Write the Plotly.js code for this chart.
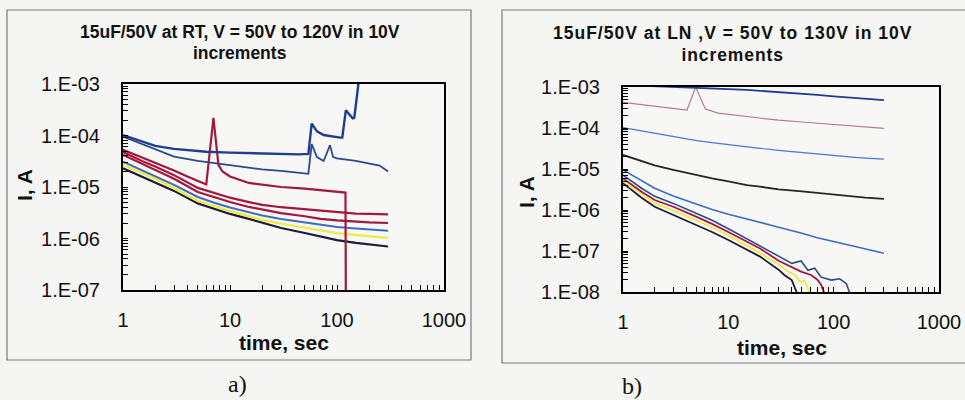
<!DOCTYPE html>
<html>
<head>
<meta charset="utf-8">
<script src="https://cdn.plot.ly/plotly-3.0.1.min.js"></script>
<style>
html,body{margin:0;padding:0;background:#f5f5f3;}
#chart{width:965px;height:400px;}
</style>
</head>
<body>
<div id="chart"></div>
<script>
// ---------- Data: panel a) room temperature (RT) ----------
var tRT = [1, 1.5, 2, 3, 5, 7, 10, 15, 20, 30, 50, 70, 100, 150, 200, 300];
var rt50V = [2.3e-5, 1.6e-5, 1.25e-5, 8.4e-6, 4.8e-6, 3.8e-6, 3.0e-6, 2.4e-6, 2.0e-6, 1.6e-6, 1.28e-6, 1.08e-6, 9.3e-7, 8.2e-7, 7.6e-7, 7.0e-7];
var rt60V = [2.7e-5, 1.85e-5, 1.45e-5, 9.5e-6, 5.4e-6, 4.3e-6, 3.4e-6, 2.7e-6, 2.3e-6, 1.95e-6, 1.62e-6, 1.42e-6, 1.27e-6, 1.17e-6, 1.1e-6, 1.03e-6];
var rt70V = [3.1e-5, 2.1e-5, 1.65e-5, 1.1e-5, 6.4e-6, 5.0e-6, 4.0e-6, 3.2e-6, 2.8e-6, 2.4e-6, 2.05e-6, 1.85e-6, 1.68e-6, 1.56e-6, 1.48e-6, 1.42e-6];
var rt80V = [4.2e-5, 2.8e-5, 2.15e-5, 1.45e-5, 8.0e-6, 6.4e-6, 5.1e-6, 4.1e-6, 3.6e-6, 3.1e-6, 2.7e-6, 2.4e-6, 2.25e-6, 2.12e-6, 2.05e-6, 2.0e-6];
var rt90V = [4.8e-5, 3.2e-5, 2.5e-5, 1.7e-5, 9.6e-6, 7.7e-6, 6.2e-6, 5.1e-6, 4.5e-6, 4.05e-6, 3.7e-6, 3.4e-6, 3.2e-6, 3.05e-6, 3.0e-6, 2.95e-6];
var tRT100 = [1, 1.5, 2, 3, 4, 5, 6, 7, 7.8, 8.5, 10, 15, 20, 30, 50, 70, 100, 120, 121];
var rt100V = [5.3e-5, 3.8e-5, 3.0e-5, 2.1e-5, 1.6e-5, 1.32e-5, 1.12e-5, 2.2e-4, 2.7e-5, 2.0e-5, 1.6e-5, 1.2e-5, 1.1e-5, 1.0e-5, 9.3e-6, 8.7e-6, 8.0e-6, 7.8e-6, 5e-8];
var tRT110 = [1, 1.5, 2, 3, 5, 7, 10, 15, 20, 30, 40, 52, 54, 58, 65, 75, 86, 92, 100, 150, 200, 250, 300];
var rt110V = [9.5e-5, 6.8e-5, 5.4e-5, 3.9e-5, 3.2e-5, 2.9e-5, 2.65e-5, 2.35e-5, 2.2e-5, 2.05e-5, 1.9e-5, 1.77e-5, 1.8e-5, 6.8e-5, 3.8e-5, 3.2e-5, 6.5e-5, 3.8e-5, 3.6e-5, 3.2e-5, 2.9e-5, 2.6e-5, 2.0e-5];
var tRT120 = [1, 1.5, 2, 3, 6, 10, 18, 30, 44, 54, 58, 65, 75, 107, 112, 121, 140, 145, 165];
var rt120V = [1.02e-4, 7.6e-5, 6.3e-5, 5.5e-5, 4.85e-5, 4.65e-5, 4.5e-5, 4.4e-5, 4.3e-5, 4.4e-5, 1.7e-4, 1.2e-4, 1.02e-4, 9.1e-5, 9.1e-5, 3.1e-4, 2.15e-4, 2.2e-4, 2.0e-3];

// ---------- Data: panel b) liquid nitrogen (LN) ----------
var tLN = [1, 1.5, 2, 3, 5, 7, 10, 15, 20, 30, 50, 70, 100, 150, 200, 300];
var ln130V = [1.12e-3, 1.08e-3, 1.05e-3, 1.01e-3, 9.8e-4, 9.3e-4, 8.9e-4, 8.5e-4, 8.1e-4, 7.5e-4, 6.8e-4, 6.4e-4, 5.9e-4, 5.4e-4, 5.1e-4, 4.8e-4];
var tLN120 = [1, 2, 3, 4.05, 4.9, 6.05, 8, 10, 15, 20, 30, 50, 70, 100, 150, 200, 300];
var ln120V = [4.2e-4, 3.4e-4, 3.0e-4, 2.75e-4, 1.0e-3, 2.9e-4, 2.3e-4, 2.15e-4, 1.85e-4, 1.72e-4, 1.55e-4, 1.4e-4, 1.3e-4, 1.2e-4, 1.1e-4, 1.05e-4, 9.8e-5];
var ln110V = [1.02e-4, 8.4e-5, 7.3e-5, 6.0e-5, 4.9e-5, 4.4e-5, 4.0e-5, 3.5e-5, 3.2e-5, 2.85e-5, 2.5e-5, 2.3e-5, 2.1e-5, 1.95e-5, 1.85e-5, 1.75e-5];
var ln100V = [2.2e-5, 1.55e-5, 1.22e-5, 9.5e-6, 7.0e-6, 5.9e-6, 5.0e-6, 4.05e-6, 3.7e-6, 3.2e-6, 2.85e-6, 2.6e-6, 2.4e-6, 2.1e-6, 2.0e-6, 1.86e-6];
var ln90V = [9.5e-6, 5.3e-6, 3.4e-6, 2.2e-6, 1.4e-6, 1.03e-6, 7.9e-7, 6.1e-7, 5.0e-7, 3.8e-7, 2.7e-7, 2.1e-7, 1.7e-7, 1.35e-7, 1.15e-7, 8.8e-8];
var tLN80 = [1, 1.5, 2, 3, 5, 7, 10, 15, 20, 30, 40, 49, 57, 66, 76, 95, 114, 132, 141, 150];
var ln80V = [7.1e-6, 3.4e-6, 2.15e-6, 1.45e-6, 8.2e-7, 5.6e-7, 3.5e-7, 1.95e-7, 1.35e-7, 7.5e-8, 5.0e-8, 5.7e-8, 3.4e-8, 3.8e-8, 2.3e-8, 1.95e-8, 2.1e-8, 1.6e-8, 1.0e-8, 7e-9];
var tLN70 = [1, 1.5, 2, 3, 5, 7, 10, 15, 20, 30, 40, 49, 61, 70, 76, 80, 85];
var ln70V = [5.9e-6, 2.8e-6, 1.75e-6, 1.2e-6, 6.8e-7, 4.6e-7, 2.9e-7, 1.65e-7, 1.15e-7, 5.8e-8, 4.0e-8, 3.15e-8, 2.6e-8, 2.0e-8, 1.5e-8, 1.0e-8, 7e-9];
var tLN60 = [1, 1.5, 2, 3, 5, 7, 10, 15, 20, 30, 36, 43, 47.6, 53, 59, 62];
var ln60V = [5.1e-6, 2.4e-6, 1.45e-6, 9.8e-7, 5.6e-7, 3.8e-7, 2.4e-7, 1.35e-7, 9.0e-8, 4.6e-8, 3.3e-8, 2.6e-8, 1.8e-8, 1.9e-8, 1.0e-8, 7e-9];
var tLN50 = [1, 1.5, 2, 3, 5, 7, 10, 15, 20, 30, 34, 40, 44, 47];
var ln50V = [4.5e-6, 2.0e-6, 1.2e-6, 7.6e-7, 4.3e-7, 2.9e-7, 1.85e-7, 1.1e-7, 7.3e-8, 3.5e-8, 2.6e-8, 1.95e-8, 1.0e-8, 7e-9];

// ---------- Axis tick labels ----------
var xTickVals = [1, 10, 100, 1000];
var xTickText = ["1", "10", "100", "1000"];
var yTickValsRT = [1e-7, 1e-6, 1e-5, 1e-4, 1e-3];
var yTickTextRT = ["1.E-07", "1.E-06", "1.E-05", "1.E-04", "1.E-03"];
var yTickValsLN = [1e-8, 1e-7, 1e-6, 1e-5, 1e-4, 1e-3];
var yTickTextLN = ["1.E-08", "1.E-07", "1.E-06", "1.E-05", "1.E-04", "1.E-03"];

// all tick positions: labelled decades plus unlabelled 2..9 in each decade
function allTicks(vals, texts) {
  var tv = [], tt = [];
  for (var i = 0; i < vals.length; i++) {
    tv.push(vals[i]); tt.push(texts[i]);
    if (i < vals.length - 1) {
      for (var m = 2; m <= 9; m++) { tv.push(m * vals[i]); tt.push(''); }
    }
  }
  return {v: tv, t: tt};
}

// ---------- Styles ----------
var C = {
  black: '#1b1b3c', yellow: '#eeea48', blue: '#3b6cc4', red: '#a3173f',
  navy: '#1f3c92', navy2: '#2a4a8c', pink: '#b07c94', dkgreen: '#1f2a22',
  blueThin: '#4a78d2'
};

function tr(x, y, color, w, xa, ya, name) {
  return {x: x, y: y, type: 'scatter', mode: 'lines', name: name,
          line: {color: color, width: w}, xaxis: xa, yaxis: ya, hoverinfo: 'x+y+name'};
}

var data = [
  tr(tRT, rt50V, C.black, 2.2, 'x', 'y', 'RT 50V'),
  tr(tRT, rt60V, C.yellow, 2.4, 'x', 'y', 'RT 60V'),
  tr(tRT, rt70V, C.blue, 2, 'x', 'y', 'RT 70V'),
  tr(tRT, rt80V, C.red, 2.2, 'x', 'y', 'RT 80V'),
  tr(tRT, rt90V, C.red, 2.2, 'x', 'y', 'RT 90V'),
  tr(tRT100, rt100V, C.red, 2.2, 'x', 'y', 'RT 100V'),
  tr(tRT110, rt110V, C.navy2, 1.8, 'x', 'y', 'RT 110V'),
  tr(tRT120, rt120V, C.navy, 2.4, 'x', 'y', 'RT 120V'),

  tr(tLN50, ln50V, C.black, 1.8, 'x2', 'y2', 'LN 50V'),
  tr(tLN60, ln60V, C.yellow, 1.8, 'x2', 'y2', 'LN 60V'),
  tr(tLN70, ln70V, C.red, 1.8, 'x2', 'y2', 'LN 70V'),
  tr(tLN80, ln80V, C.navy2, 1.6, 'x2', 'y2', 'LN 80V'),
  tr(tLN, ln90V, C.blue, 1.6, 'x2', 'y2', 'LN 90V'),
  tr(tLN, ln100V, C.dkgreen, 1.8, 'x2', 'y2', 'LN 100V'),
  tr(tLN, ln110V, C.blueThin, 1.2, 'x2', 'y2', 'LN 110V'),
  tr(tLN120, ln120V, C.pink, 1.2, 'x2', 'y2', 'LN 120V'),
  tr(tLN, ln130V, C.navy, 1.8, 'x2', 'y2', 'LN 130V')
];

var W = 965, H = 400;
function px(v) { return v / W; }
function py(v) { return 1 - v / H; }

var tickFont = {family: 'Liberation Sans, Arial, sans-serif', size: 20, color: '#111'};

function xAxis(d0, d1, anchor) {
  var tk = allTicks(xTickVals, xTickText);
  return {
    type: 'log', range: [0, 3], domain: [px(d0), px(d1)], anchor: anchor,
    tickmode: 'array', tickvals: tk.v, ticktext: tk.t,
    ticks: 'inside', ticklen: 5, tickwidth: 1, tickcolor: '#000',
    showline: true, mirror: true, linecolor: '#000', linewidth: 2,
    showgrid: false, zeroline: false, tickfont: tickFont, ticklabelstandoff: 11,
    fixedrange: true
  };
}
function yAxis(r, tv, tt, d0, d1, anchor) {
  var tk = allTicks(tv, tt);
  return {
    type: 'log', range: r, domain: [py(d1), py(d0)], anchor: anchor,
    tickmode: 'array', tickvals: tk.v, ticktext: tk.t,
    ticks: 'inside', ticklen: 5, tickwidth: 1, tickcolor: '#000',
    showline: true, mirror: true, linecolor: '#000', linewidth: 2,
    showgrid: false, zeroline: false, tickfont: tickFont, ticklabelstandoff: 17,
    fixedrange: true
  };
}

var titleFont = {family: 'Liberation Sans, Arial, sans-serif', size: 17.5, color: '#111'};
var axTitleFont = {family: 'Liberation Sans, Arial, sans-serif', size: 21, color: '#111'};
var labFont = {family: 'Liberation Serif, Times New Roman, serif', size: 24, color: '#111'};

function ann(text, x, y, font, extra) {
  var a = {text: text, x: px(x), y: py(y), xref: 'paper', yref: 'paper',
           xanchor: 'center', yanchor: 'middle', showarrow: false, font: font};
  if (extra) for (var k in extra) a[k] = extra[k];
  return a;
}

var layout = {
  width: W, height: H,
  margin: {l: 0, r: 0, t: 0, b: 0},
  paper_bgcolor: '#f5f5f3', plot_bgcolor: '#f7f7f5',
  showlegend: false,
  xaxis: xAxis(123, 444, 'y'),
  yaxis: yAxis([-7, -3], yTickValsRT, yTickTextRT, 84, 290, 'x'),
  xaxis2: xAxis(623, 939, 'y2'),
  yaxis2: yAxis([-8, -3], yTickValsLN, yTickTextLN, 87, 292, 'x2'),
  shapes: [
    {type: 'rect', xref: 'paper', yref: 'paper', x0: px(7), x1: px(471), y0: py(360), y1: py(10),
     line: {color: '#7a7a7a', width: 1.2}, fillcolor: 'rgba(0,0,0,0)', layer: 'below'},
    {type: 'rect', xref: 'paper', yref: 'paper', x0: px(502), x1: px(975), y0: py(363), y1: py(10),
     line: {color: '#7a7a7a', width: 1.2}, fillcolor: 'rgba(0,0,0,0)', layer: 'below'}
  ],
  annotations: [
    ann('<b>15uF/50V at RT, V = 50V to 120V in 10V</b>', 240, 32, titleFont),
    ann('<b>increments</b>', 240, 53, titleFont),
    ann('<b>15uF/50V at LN ,V = 50V to 130V in 10V</b>', 733, 33, titleFont),
    ann('<b>increments</b>', 733, 55, titleFont),
    ann('<b>time, sec</b>', 284, 342, axTitleFont),
    ann('<b>time, sec</b>', 782, 347, axTitleFont),
    ann('<b>I, A</b>', 24, 185, axTitleFont, {textangle: -90}),
    ann('<b>I, A</b>', 526, 192, axTitleFont, {textangle: -90}),
    ann('a)', 237, 384, labFont),
    ann('b)', 632, 386, labFont)
  ]
};

Plotly.newPlot('chart', data, layout, {displayModeBar: false, staticPlot: true}).then(function () {
  // the right-hand panel's title is set with wider letter spacing in the original
  var texts = document.querySelectorAll('.annotation-text');
  if (texts[2]) texts[2].style.letterSpacing = '1px';
  if (texts[3]) texts[3].style.letterSpacing = '0.9px';
});
</script>
</body>
</html>
